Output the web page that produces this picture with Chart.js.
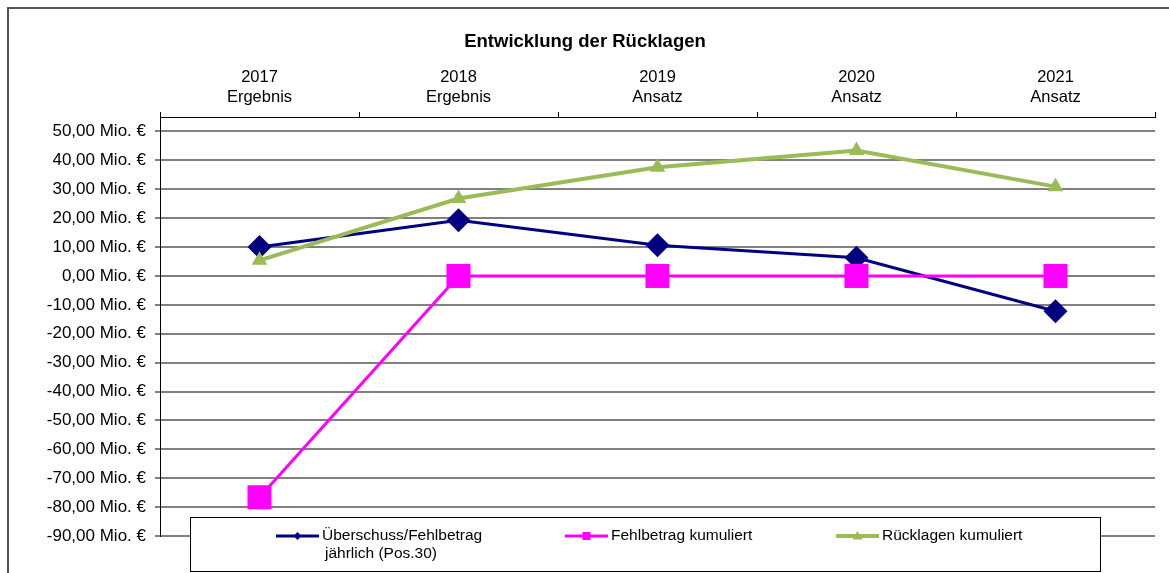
<!DOCTYPE html>
<html>
<head>
<meta charset="utf-8">
<script src="https://cdn.jsdelivr.net/npm/chart.js@4.4.1/dist/chart.umd.min.js"></script>
<style>
  html, body { margin: 0; padding: 0; background: #fff; }
  #wrap { width: 1169px; height: 573px; position: relative; }
</style>
</head>
<body>
<div id="wrap"><canvas id="chart" width="1169" height="573"></canvas></div>
<script>
// === DATA ===
const jahre = [['2017', 'Ergebnis'], ['2018', 'Ergebnis'], ['2019', 'Ansatz'], ['2020', 'Ansatz'], ['2021', 'Ansatz']];
const ueberschuss = [10.0, 19.3, 10.6, 6.3, -12.2];
const fehlbetrag = [-76.6, 0, 0, 0, 0];
const ruecklagen = [5.4, 26.8, 37.6, 43.4, 30.9];
const yTicks = [-90, -80, -70, -60, -50, -40, -30, -20, -10, 0, 10, 20, 30, 40, 50];
const yMin = -90, yMax = 55;

const serienNamen = [['Überschuss/Fehlbetrag', 'jährlich (Pos.30)'], ['Fehlbetrag kumuliert'], ['Rücklagen kumuliert']];
const FONT = 'Arial, "Liberation Sans", sans-serif';

function formatMio(v) {
    return v.toFixed(2).replace('.', ',') + ' Mio. €';
}

// kleine Marker fuer die Legende
function marker(ctx, style, x, y, r, color) {
    ctx.fillStyle = color;
    ctx.beginPath();
    if (style === 'rectRot') {
        ctx.moveTo(x, y - r); ctx.lineTo(x + r, y); ctx.lineTo(x, y + r); ctx.lineTo(x - r, y);
    } else if (style === 'rect') {
        ctx.rect(x - r, y - r, 2 * r, 2 * r);
    } else {
        ctx.moveTo(x, y - r); ctx.lineTo(x + r, y + r * 0.7); ctx.lineTo(x - r, y + r * 0.7);
    }
    ctx.closePath();
    ctx.fill();
}

// Rahmen + Titel
const framePlugin = {
    id: 'frame',
    afterDraw(chart) {
        const c = chart.ctx;
        c.save();
        c.strokeStyle = '#555';
        c.lineWidth = 2;
        c.beginPath();
        c.moveTo(8, 573); c.lineTo(8, 8); c.lineTo(1169, 8);
        c.stroke();
        c.fillStyle = '#000';
        c.font = 'bold 18.5px ' + FONT;
        c.textAlign = 'center';
        c.textBaseline = 'middle';
        c.fillText('Entwicklung der Rücklagen', 585, 42);
        c.restore();
    }
};

// Legende als Kasten ueber der Zeichenflaeche
const legendPlugin = {
    id: 'legendBox',
    afterDraw(chart) {
        const c = chart.ctx;
        const items = [
            { x: 276, ds: chart.data.datasets[0], r: 4 },
            { x: 565, ds: chart.data.datasets[1], r: 4 },
            { x: 836, ds: chart.data.datasets[2], r: 5 }
        ];
        c.save();
        c.fillStyle = '#fff';
        c.fillRect(190.5, 517.5, 910, 54);
        c.strokeStyle = '#000';
        c.lineWidth = 1;
        c.strokeRect(190.5, 517.5, 910, 54);
        items.forEach((it, i) => {
            const y = 536;
            c.strokeStyle = it.ds.borderColor;
            c.lineWidth = it.ds.borderWidth;
            c.beginPath();
            c.moveTo(it.x, y); c.lineTo(it.x + 43, y);
            c.stroke();
            marker(c, it.ds.pointStyle, it.x + 21.5, y, it.r, it.ds.borderColor);
            c.fillStyle = '#000';
            c.font = '15.5px ' + FONT;
            c.textAlign = 'left';
            c.textBaseline = 'middle';
            serienNamen[i].forEach((t, j) => {
                c.fillText(t, it.x + 46 + (j > 0 ? 3 : 0), y + j * 18);
            });
        });
        c.restore();
    }
};

const chart = new Chart(document.getElementById('chart'), {
    type: 'line',
    data: {
        labels: jahre,
        datasets: [
            {
                label: 'Überschuss/Fehlbetrag jährlich (Pos.30)',
                data: ueberschuss,
                borderColor: '#000080',
                backgroundColor: '#000080',
                borderWidth: 3,
                pointStyle: 'rectRot',
                pointRadius: 12,
                pointBorderWidth: 0,
                order: 3
            },
            {
                label: 'Fehlbetrag kumuliert',
                data: fehlbetrag,
                borderColor: '#FF00FF',
                backgroundColor: '#FF00FF',
                borderWidth: 3,
                pointStyle: 'rect',
                pointRadius: 17,
                pointBorderWidth: 0,
                order: 2
            },
            {
                label: 'Rücklagen kumuliert',
                data: ruecklagen,
                borderColor: '#9BBB59',
                backgroundColor: '#9BBB59',
                borderWidth: 4,
                pointStyle: 'triangle',
                pointRadius: 9,
                pointBorderWidth: 0,
                order: 1
            }
        ]
    },
    options: {
        responsive: false,
        animation: false,
        layout: { autoPadding: false, padding: { left: 0, right: 14, top: 67, bottom: 37 } },
        plugins: {
            legend: { display: false },
            title: { display: false },
            tooltip: { enabled: false }
        },
        elements: { line: { tension: 0 } },
        scales: {
            x: {
                position: 'top',
                offset: true,
                grid: { offset: true, drawOnChartArea: false, color: '#000', tickLength: 5 },
                border: { color: '#000', width: 1 },
                ticks: {
                    color: '#000',
                    padding: 5,
                    maxRotation: 0,
                    font: { family: FONT, size: 16.5, lineHeight: '20px' }
                },
                afterFit(scale) { scale.height = 50; }
            },
            y: {
                min: yMin,
                max: yMax,
                grid: { color: '#808080', lineWidth: 2, tickLength: 5 },
                border: { color: '#000', width: 1 },
                ticks: {
                    color: '#000',
                    padding: 9,
                    font: { family: FONT, size: 17 },
                    callback: (v) => formatMio(v)
                },
                afterBuildTicks(axis) {
                    axis.ticks = yTicks.map(v => ({ value: v }));
                },
                afterFit(scale) { scale.width = 160; }
            }
        }
    },
    plugins: [framePlugin, legendPlugin]
});
</script>
</body>
</html>
